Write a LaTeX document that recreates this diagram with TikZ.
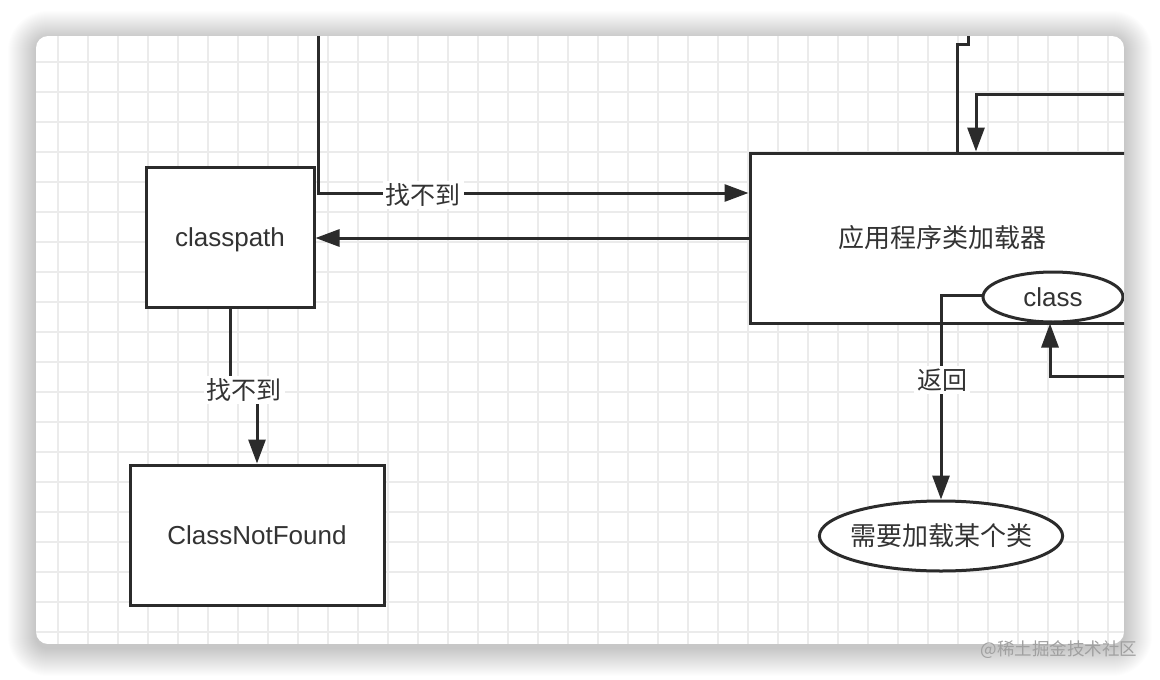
\documentclass[tikz,border=0pt]{standalone}
\usepackage{fontspec}
\setmainfont{Liberation Sans}
\newfontfamily\cjk{Noto Sans CJK SC}
\usetikzlibrary{arrows.meta,shapes.geometric}
\definecolor{ink}{HTML}{2B2B2B}
\definecolor{txt}{HTML}{333333}
\definecolor{gridc}{HTML}{EBEBEB}
\definecolor{wm}{HTML}{A0A0A0}
\tikzset{
  gridline/.style={draw=gridc, line width=1.6pt},
  boxnode/.style={draw=ink, line width=3pt, fill=white, text=txt, inner sep=0pt},
  ellnode/.style={ellipse, draw=ink, line width=3pt, fill=white, text=txt, inner sep=0pt},
  conn/.style={draw=ink, line width=3pt},
  arr/.style={conn, -{Triangle[length=24pt,width=17pt]}},
  lab/.style={fill=white, text=txt, inner sep=3pt, font=\cjk\fontsize{25}{28}\selectfont},
  latin/.style={font=\fontsize{26}{30}\selectfont},
  cjkfont/.style={font=\cjk\fontsize{26}{30}\selectfont}
}
\begin{document}
\begin{tikzpicture}[x=1pt,y=-1pt]
\useasboundingbox (0,0) rectangle (1160,680);
\fill[white] (0,0) rectangle (1160,680);
% soft shadow made of stacked translucent rounded rectangles
\foreach \i in {1,...,28} {
  \fill[black, opacity=0.0065, rounded corners=12pt+\i pt]
    (36-\i,36-\i+3) rectangle (1124+\i,644+\i+4);
}
\begin{scope}
\clip[rounded corners=12pt] (36,36) rectangle (1124,644);
\fill[white] (36,36) rectangle (1124,644);
\foreach \x in {58,88,...,1108} \draw[gridline] (\x,36) -- (\x,644);
\foreach \y in {62,92,...,632} \draw[gridline] (36,\y) -- (1124,\y);

\node[boxnode, latin, text depth=0pt, minimum width=168pt, minimum height=140pt] (cp) at (230,237) {classpath};
\node[boxnode, latin, minimum width=254pt, minimum height=140pt] (cnf) at (257,535) {ClassNotFound};
\node[boxnode, cjkfont, minimum width=384pt, minimum height=170pt] (app) at (942,238) {应用程序类加载器};
\node[ellnode, latin, minimum width=140pt, minimum height=50pt] (cls) at (1053,297) {class};
\node[ellnode, cjkfont, inner xsep=-5pt, minimum width=243pt, minimum height=70pt] (need) at (941,536) {需要加载某个类};

% from top, not found -> app loader
\coordinate (t1) at (318,30);
\coordinate (r1) at (318,193);
\draw[arr] (t1) -- (r1) -- (r1 -| app.west);
\node[lab] (l1) at (423,195) {找不到};

% app loader -> classpath
\draw[arr] (app.west) -- (app.west -| cp.east);

% classpath -> ClassNotFound
\coordinate (j1) at (230,390);
\draw[arr] (cp.south) -- (j1) -- (j1 -| cnf.north) -- (cnf.north);
\node[lab] (l2) at (244,390) {找不到};

% top right lines
\coordinate (t2) at (968,30);
\coordinate (t2a) at (968,44);
\coordinate (t2b) at (957,44);
\draw[conn] (t2) -- (t2a) -- (t2b) -- (t2b |- app.north);

\coordinate (r2) at (1135,94);
\coordinate (r2b) at (976,94);
\draw[arr] (r2) -- (r2b) -- (r2b |- app.north);

\coordinate (r3) at (1135,376);
\coordinate (r3b) at (1050,376);
\draw[arr] (r3) -- (r3b) -- (r3b |- cls.south);

% class -> need
\coordinate (c1) at (941,295);
\draw[arr] (cls.west |- c1) -- (c1) -- (need.north);
\node[lab] (l3) at (942,380) {返回};
\end{scope}

\node[text=wm, font=\cjk\fontsize{17.5}{20}\selectfont, inner sep=0pt] (wmk) at (1059,650) {@稀土掘金技术社区};
\end{tikzpicture}
\end{document}
